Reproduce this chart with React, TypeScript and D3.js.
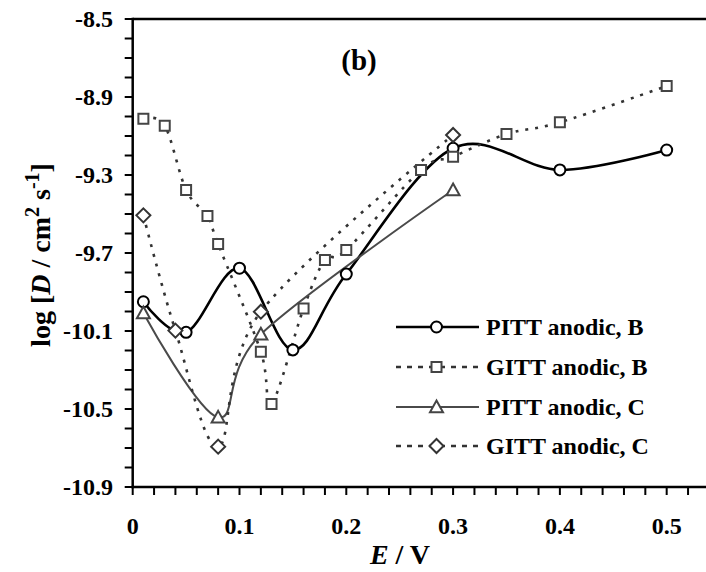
import React from "react";
import * as d3 from "d3";

const W = 706;
const H = 572;

// Data (E in V, log D)
const pittB_E = [0.01, 0.05, 0.1, 0.15, 0.2, 0.3, 0.4, 0.5];
const pittB_D = [-9.95, -10.107, -9.778, -10.197, -9.808, -9.163, -9.274, -9.172];

const gittB_E = [0.01, 0.03, 0.05, 0.07, 0.08, 0.12, 0.13, 0.16, 0.18, 0.2, 0.27, 0.3, 0.35, 0.4, 0.5];
const gittB_D = [-9.011, -9.047, -9.377, -9.51, -9.654, -10.206, -10.474, -9.984, -9.736, -9.685, -9.274, -9.206, -9.09, -9.03, -8.844];

const pittC_E = [0.01, 0.08, 0.12, 0.3];
const pittC_D = [-10.008, -10.543, -10.117, -9.377];

const gittC_E = [0.01, 0.04, 0.08, 0.12, 0.3];
const gittC_D = [-9.507, -10.098, -10.693, -10.001, -9.095];

const yTickLabels = [-8.5, -8.9, -9.3, -9.7, -10.1, -10.5, -10.9];
const xTickLabels = [0, 0.1, 0.2, 0.3, 0.4, 0.5];
const legendLabels = ["PITT anodic, B", "GITT anodic, B", "PITT anodic, C", "GITT anodic, C"];

const FONT = "'Liberation Serif', 'Times New Roman', serif";

const x = d3.scaleLinear().domain([0, 0.54]).range([132.7, 709.4]);
const y = d3.scaleLinear().domain([-10.9, -8.5]).range([487, 19]);

type Marker = "circle" | "square" | "triangle" | "diamond";

function markerPath(m: Marker, cx: number, cy: number): string {
  if (m === "circle") {
    const r = 5.5;
    return `M${cx - r},${cy}a${r},${r} 0 1,0 ${2 * r},0a${r},${r} 0 1,0 ${-2 * r},0Z`;
  }
  if (m === "square") {
    const s = 5;
    return `M${cx - s},${cy - s}h${2 * s}v${2 * s}h${-2 * s}Z`;
  }
  if (m === "triangle") {
    const s = 6.5;
    return `M${cx},${cy - s}L${cx + s},${cy + s * 0.8}L${cx - s},${cy + s * 0.8}Z`;
  }
  const s = 7;
  return `M${cx},${cy - s}L${cx + s},${cy}L${cx},${cy + s}L${cx - s},${cy}Z`;
}

const series = [
  { E: pittB_E, D: pittB_D, marker: "circle" as Marker, color: "#000", mcolor: "#000", width: 2.6, dash: "" },
  { E: gittB_E, D: gittB_D, marker: "square" as Marker, color: "#333", mcolor: "#444", width: 2.6, dash: "3,7" },
  { E: pittC_E, D: pittC_D, marker: "triangle" as Marker, color: "#4a4a4a", mcolor: "#444", width: 2, dash: "" },
  { E: gittC_E, D: gittC_D, marker: "diamond" as Marker, color: "#333", mcolor: "#333", width: 2.6, dash: "3,7" },
];

export default function App() {
  const line = d3
    .line<[number, number]>()
    .x((d) => x(d[0]))
    .y((d) => y(d[1]))
    .curve(d3.curveCatmullRom.alpha(0));

  const xMinor = d3.range(0, 0.5201, 0.02);
  const yMinor = d3.range(0, 25).map((i) => -8.5 - i * 0.1);

  const legendX0 = 396;
  const legendX1 = 479;
  const legendYs = [327, 367, 407, 446];

  return (
    <svg
      width={W}
      height={H}
      style={{ position: "absolute", left: 0, top: 0, background: "#fff" }}
      fontFamily={FONT}
    >
      <rect x={0} y={0} width={W} height={H} fill="#fff" />
      {/* series lines */}
      {series.map((s, i) => (
        <path
          key={"l" + i}
          d={line(s.E.map((e, j) => [e, s.D[j]] as [number, number])) || ""}
          fill="none"
          stroke={s.color}
          strokeWidth={s.width}
          strokeDasharray={s.dash || undefined}
        />
      ))}
      {/* markers */}
      {series.map((s, i) =>
        s.E.map((e, j) => (
          <path
            key={"m" + i + "-" + j}
            d={markerPath(s.marker, x(e), y(s.D[j]))}
            fill="#fff"
            stroke={s.mcolor}
            strokeWidth={2}
          />
        ))
      )}
      {/* axes */}
      <line x1={x(0)} x2={W} y1={y(-8.5)} y2={y(-8.5)} stroke="#000" strokeWidth={2.5} />
      <line x1={x(0)} x2={x(0)} y1={y(-8.5) - 1.2} y2={y(-10.9) + 1.2} stroke="#000" strokeWidth={2.5} />
      <line x1={x(0) - 1.2} x2={W} y1={y(-10.9)} y2={y(-10.9)} stroke="#000" strokeWidth={2.5} />
      {yMinor.map((v, i) => (
        <line key={"yt" + i} x1={x(0) - 8} x2={x(0)} y1={y(v)} y2={y(v)} stroke="#000" strokeWidth={2} />
      ))}
      {xMinor.map((v, i) => (
        <line key={"xt" + i} x1={x(v)} x2={x(v)} y1={y(-10.9)} y2={y(-10.9) + 8} stroke="#000" strokeWidth={2} />
      ))}
      {yTickLabels.map((v, i) => (
        <text
          key={"yl" + i}
          x={113}
          y={y(v)}
          dy="0.35em"
          textAnchor="end"
          fontWeight="bold"
          fontSize={24}
        >
          {v.toFixed(1)}
        </text>
      ))}
      {xTickLabels.map((v, i) => (
        <text key={"xl" + i} x={x(v)} y={534} textAnchor="middle" fontWeight="bold" fontSize={24}>
          {v === 0 ? "0" : v.toFixed(1)}
        </text>
      ))}
      {/* axis titles */}
      <text x={400} y={564} textAnchor="middle" fontWeight="bold" fontSize={28}>
        <tspan fontStyle="italic">E</tspan>
        <tspan> / V</tspan>
      </text>
      <text
        transform={`translate(50,${255}) rotate(-90)`}
        textAnchor="middle"
        fontWeight="bold"
        fontSize={28}
      >
        <tspan>log [</tspan>
        <tspan fontStyle="italic">D</tspan>
        <tspan> / cm</tspan>
        <tspan dy={-11} fontSize={20}>2</tspan>
        <tspan dy={11}> s</tspan>
        <tspan dy={-11} fontSize={20}>-1</tspan>
        <tspan dy={11}>]</tspan>
      </text>
      {/* panel label */}
      <text x={359} y={70} textAnchor="middle" fontWeight="bold" fontSize={29}>
        (b)
      </text>
      {/* legend */}
      {series.map((s, i) => {
        const ly = legendYs[i];
        const cx = (legendX0 + legendX1) / 2 - 1;
        return (
          <g key={"lg" + i}>
            <line
              x1={legendX0}
              x2={legendX1}
              y1={ly}
              y2={ly}
              stroke={s.color}
              strokeWidth={s.width}
              strokeDasharray={s.dash ? "5,6" : undefined}
            />
            <path d={markerPath(s.marker, cx, ly)} fill="#fff" stroke={s.mcolor} strokeWidth={2} />
            <text x={486} y={ly + 8} fontWeight="bold" fontSize={24}>
              {legendLabels[i]}
            </text>
          </g>
        );
      })}
    </svg>
  );
}
